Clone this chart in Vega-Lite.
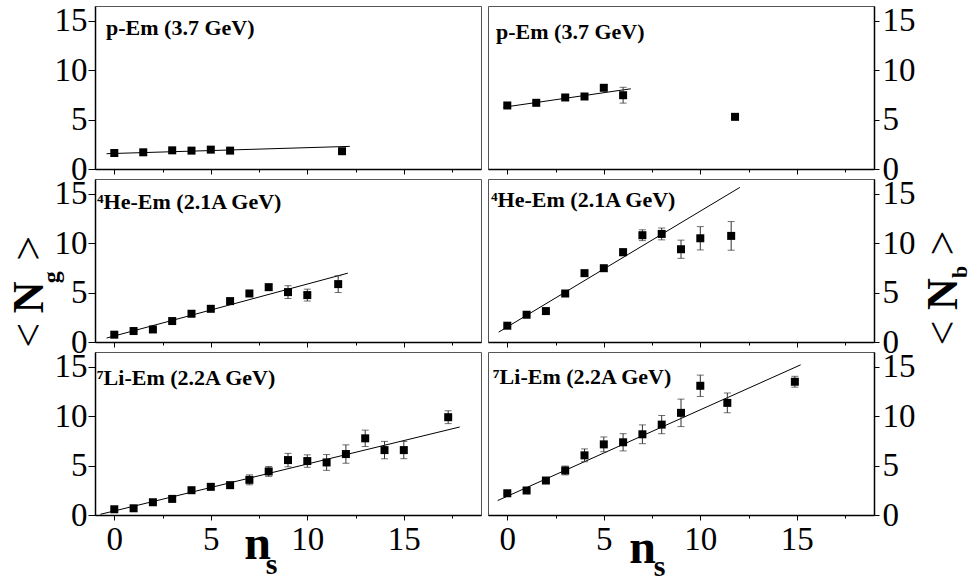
{
"$schema":"https://vega.github.io/schema/vega-lite/v6.json",
"background":"white",
"padding":{"left":7,"top":4,"right":0,"bottom":0},
"config":{
 "font":"Liberation Serif",
 "view":{"stroke":"#555","strokeWidth":1},
 "axis":{"grid":false,"domainColor":"black","domainWidth":1.5,"tickColor":"black","tickWidth":1,"labelColor":"black","labelFont":"Liberation Serif","labelFontSize":33}
},
"datasets":{
 "pts":[
  {"p":"TL","ns":0,"v":1.62,"e":0.1},{"p":"TL","ns":1.5,"v":1.69,"e":0.1},{"p":"TL","ns":3,"v":1.89,"e":0.1},{"p":"TL","ns":4,"v":1.86,"e":0.1},{"p":"TL","ns":5,"v":1.96,"e":0.1},{"p":"TL","ns":6,"v":1.86,"e":0.1},{"p":"TL","ns":11.8,"v":1.8,"e":0.15},
  {"p":"TR","ns":0,"v":6.43,"e":0.1},{"p":"TR","ns":1.5,"v":6.7,"e":0.1},{"p":"TR","ns":3,"v":7.24,"e":0.15},{"p":"TR","ns":4,"v":7.34,"e":0.15},{"p":"TR","ns":5,"v":8.22,"e":0.2},{"p":"TR","ns":6,"v":7.47,"e":0.8},{"p":"TR","ns":11.8,"v":5.28,"e":0.1},
  {"p":"ML","ns":0,"v":0.74,"e":0.1},{"p":"ML","ns":1,"v":1.11,"e":0.1},{"p":"ML","ns":2,"v":1.27,"e":0.1},{"p":"ML","ns":3,"v":2.12,"e":0.1},{"p":"ML","ns":4,"v":2.86,"e":0.15},{"p":"ML","ns":5,"v":3.36,"e":0.15},{"p":"ML","ns":6,"v":4.14,"e":0.2},{"p":"ML","ns":7,"v":4.91,"e":0.2},{"p":"ML","ns":8,"v":5.55,"e":0.3},{"p":"ML","ns":9,"v":5.05,"e":0.65},{"p":"ML","ns":10,"v":4.75,"e":0.6},{"p":"ML","ns":11.6,"v":5.86,"e":0.85},
  {"p":"MR","ns":0,"v":1.65,"e":0.1},{"p":"MR","ns":1,"v":2.76,"e":0.1},{"p":"MR","ns":2,"v":3.13,"e":0.15},{"p":"MR","ns":3,"v":4.91,"e":0.15},{"p":"MR","ns":4,"v":6.97,"e":0.2},{"p":"MR","ns":5,"v":7.47,"e":0.25},{"p":"MR","ns":6,"v":9.09,"e":0.35},{"p":"MR","ns":7,"v":10.81,"e":0.55},{"p":"MR","ns":8,"v":10.94,"e":0.6},{"p":"MR","ns":9,"v":9.39,"e":0.92},{"p":"MR","ns":10,"v":10.5,"e":1.18},{"p":"MR","ns":11.6,"v":10.74,"e":1.45},
  {"p":"BL","ns":0,"v":0.58,"e":0.1},{"p":"BL","ns":1,"v":0.68,"e":0.1},{"p":"BL","ns":2,"v":1.29,"e":0.1},{"p":"BL","ns":3,"v":1.63,"e":0.15},{"p":"BL","ns":4,"v":2.51,"e":0.15},{"p":"BL","ns":5,"v":2.85,"e":0.2},{"p":"BL","ns":6,"v":3.02,"e":0.3},{"p":"BL","ns":7,"v":3.56,"e":0.5},{"p":"BL","ns":8,"v":4.41,"e":0.5},{"p":"BL","ns":9,"v":5.56,"e":0.68},{"p":"BL","ns":10,"v":5.46,"e":0.63},{"p":"BL","ns":11,"v":5.32,"e":0.8},{"p":"BL","ns":12,"v":6.17,"e":0.93},{"p":"BL","ns":13,"v":7.76,"e":0.83},{"p":"BL","ns":14,"v":6.57,"e":0.88},{"p":"BL","ns":15,"v":6.57,"e":0.87},{"p":"BL","ns":17.3,"v":9.9,"e":0.65},
  {"p":"BR","ns":0,"v":2.2,"e":0.1},{"p":"BR","ns":1,"v":2.48,"e":0.15},{"p":"BR","ns":2,"v":3.49,"e":0.2},{"p":"BR","ns":3,"v":4.51,"e":0.45},{"p":"BR","ns":4,"v":6.04,"e":0.65},{"p":"BR","ns":5,"v":7.15,"e":0.75},{"p":"BR","ns":6,"v":7.36,"e":0.87},{"p":"BR","ns":7,"v":8.17,"e":0.95},{"p":"BR","ns":8,"v":9.15,"e":0.92},{"p":"BR","ns":9,"v":10.34,"e":1.39},{"p":"BR","ns":10,"v":13.08,"e":1.08},{"p":"BR","ns":11.4,"v":11.35,"e":1.0},{"p":"BR","ns":14.9,"v":13.49,"e":0.55}
 ],
 "fits":[
  {"p":"TL","ns":-0.4,"v":1.55},{"p":"TL","ns":12.2,"v":2.29},
  {"p":"TR","ns":-0.2,"v":6.25},{"p":"TR","ns":6.4,"v":8.12},
  {"p":"ML","ns":-0.4,"v":0.4},{"p":"ML","ns":12.1,"v":6.97},
  {"p":"MR","ns":-0.45,"v":1.0},{"p":"MR","ns":12.05,"v":15.65},
  {"p":"BL","ns":-0.72,"v":0.07},{"p":"BL","ns":17.9,"v":8.91},
  {"p":"BR","ns":-0.5,"v":1.46},{"p":"BR","ns":15.2,"v":15.2}
 ]
},
"columns":2,
"spacing":{"row":10,"column":7},
"bounds":"flush",
"concat":[
 {
  "width":386,"height":163,
  "layer":[
   {"data":{"name":"fits"},"transform":[{"filter":"datum.p === 'TL'"}],"mark":{"type":"line","color":"black","strokeWidth":1},"encoding":{"x":{"field":"ns","type":"quantitative"},"y":{"field":"v","type":"quantitative"}}},
   {"data":{"name":"pts"},"transform":[{"filter":"datum.p === 'TL'"}],"mark":{"type":"errorbar","ticks":true,"size":7,"thickness":1,"color":"#333"},"encoding":{"x":{"field":"ns","type":"quantitative"},"y":{"field":"v","type":"quantitative"},"yError":{"field":"e"}}},
   {"data":{"name":"pts"},"transform":[{"filter":"datum.p === 'TL'"}],"mark":{"type":"square","size":64,"color":"black","opacity":1},"encoding":{
     "x":{"field":"ns","type":"quantitative","scale":{"domain":[-1,19],"nice":false,"zero":false},"axis":{"title":null,"values":[0,2.5,5,7.5,10,12.5,15,17.5],"labels":false,"tickSize":{"condition":{"test":"datum.value % 5 === 0","value":5},"value":3}}},
     "y":{"field":"v","type":"quantitative","scale":{"domain":[0,16.5],"nice":false,"zero":false},"axis":{"title":null,"orient":"left","values":[0,2.5,5,7.5,10,12.5,15],"labelExpr":"datum.value % 5 === 0 ? '' + datum.value : ''","tickSize":{"condition":{"test":"datum.value % 5 === 0","value":7},"value":4},"labelPadding":1}}}},
   {"data":{"values":[{"t":"p-Em (3.7 GeV)"}]},"mark":{"type":"text","align":"left","baseline":"alphabetic","fontSize":22,"fontWeight":"bold","color":"black","dx":11,"dy":29},"encoding":{"x":{"datum":-1},"y":{"datum":16.5},"text":{"field":"t"}}}
  ]
 },
 {
  "width":386,"height":163,
  "layer":[
   {"data":{"name":"fits"},"transform":[{"filter":"datum.p === 'TR'"}],"mark":{"type":"line","color":"black","strokeWidth":1},"encoding":{"x":{"field":"ns","type":"quantitative"},"y":{"field":"v","type":"quantitative"}}},
   {"data":{"name":"pts"},"transform":[{"filter":"datum.p === 'TR'"}],"mark":{"type":"errorbar","ticks":true,"size":7,"thickness":1,"color":"#333"},"encoding":{"x":{"field":"ns","type":"quantitative"},"y":{"field":"v","type":"quantitative"},"yError":{"field":"e"}}},
   {"data":{"name":"pts"},"transform":[{"filter":"datum.p === 'TR'"}],"mark":{"type":"square","size":64,"color":"black","opacity":1},"encoding":{
     "x":{"field":"ns","type":"quantitative","scale":{"domain":[-1,19],"nice":false,"zero":false},"axis":{"title":null,"values":[0,2.5,5,7.5,10,12.5,15,17.5],"labels":false,"tickSize":{"condition":{"test":"datum.value % 5 === 0","value":5},"value":3}}},
     "y":{"field":"v","type":"quantitative","scale":{"domain":[0,16.5],"nice":false,"zero":false},"axis":{"title":null,"orient":"right","values":[0,2.5,5,7.5,10,12.5,15],"labelExpr":"datum.value % 5 === 0 ? '' + datum.value : ''","tickSize":{"condition":{"test":"datum.value % 5 === 0","value":5},"value":3},"labelPadding":3}}}},
   {"data":{"values":[{"t":"p-Em (3.7 GeV)"}]},"mark":{"type":"text","align":"left","baseline":"alphabetic","fontSize":22,"fontWeight":"bold","color":"black","dx":8,"dy":33},"encoding":{"x":{"datum":-1},"y":{"datum":16.5},"text":{"field":"t"}}}
  ]
 },
 {
  "width":386,"height":163,
  "layer":[
   {"data":{"name":"fits"},"transform":[{"filter":"datum.p === 'ML'"}],"mark":{"type":"line","color":"black","strokeWidth":1},"encoding":{"x":{"field":"ns","type":"quantitative"},"y":{"field":"v","type":"quantitative"}}},
   {"data":{"name":"pts"},"transform":[{"filter":"datum.p === 'ML'"}],"mark":{"type":"errorbar","ticks":true,"size":7,"thickness":1,"color":"#333"},"encoding":{"x":{"field":"ns","type":"quantitative"},"y":{"field":"v","type":"quantitative"},"yError":{"field":"e"}}},
   {"data":{"name":"pts"},"transform":[{"filter":"datum.p === 'ML'"}],"mark":{"type":"square","size":64,"color":"black","opacity":1},"encoding":{
     "x":{"field":"ns","type":"quantitative","scale":{"domain":[-1,19],"nice":false,"zero":false},"axis":{"title":null,"values":[0,2.5,5,7.5,10,12.5,15,17.5],"labels":false,"tickSize":{"condition":{"test":"datum.value % 5 === 0","value":5},"value":3}}},
     "y":{"field":"v","type":"quantitative","scale":{"domain":[0,16.5],"nice":false,"zero":false},"axis":{"title":null,"orient":"left","values":[0,2.5,5,7.5,10,12.5,15],"labelExpr":"datum.value % 5 === 0 ? '' + datum.value : ''","tickSize":{"condition":{"test":"datum.value % 5 === 0","value":7},"value":4},"labelPadding":1}}}},
   {"data":{"values":[{"t":"⁴He-Em (2.1A GeV)"}]},"mark":{"type":"text","align":"left","baseline":"alphabetic","fontSize":22,"fontWeight":"bold","color":"black","dx":2,"dy":30},"encoding":{"x":{"datum":-1},"y":{"datum":16.5},"text":{"field":"t"}}},
   {"data":{"values":[{"t":"<"}]},"mark":{"type":"text","angle":270,"align":"center","baseline":"alphabetic","fontSize":44,"color":"black","dx":-38},"encoding":{"x":{"datum":-3.68},"y":{"datum":4.52},"text":{"field":"t"}}},
   {"data":{"values":[{"t":"N"}]},"mark":{"type":"text","angle":270,"align":"center","baseline":"alphabetic","fontSize":44,"fontWeight":"bold","color":"black"},"encoding":{"x":{"datum":-3.68},"y":{"datum":4.52},"text":{"field":"t"}}},
   {"data":{"values":[{"t":"g"}]},"mark":{"type":"text","angle":270,"align":"center","baseline":"alphabetic","fontSize":24,"fontWeight":"bold","color":"black","dx":20,"dy":16},"encoding":{"x":{"datum":-3.68},"y":{"datum":4.52},"text":{"field":"t"}}},
   {"data":{"values":[{"t":">"}]},"mark":{"type":"text","angle":270,"align":"center","baseline":"alphabetic","fontSize":44,"color":"black","dx":49},"encoding":{"x":{"datum":-3.68},"y":{"datum":4.52},"text":{"field":"t"}}}
  ]
 },
 {
  "width":386,"height":163,
  "layer":[
   {"data":{"name":"fits"},"transform":[{"filter":"datum.p === 'MR'"}],"mark":{"type":"line","color":"black","strokeWidth":1},"encoding":{"x":{"field":"ns","type":"quantitative"},"y":{"field":"v","type":"quantitative"}}},
   {"data":{"name":"pts"},"transform":[{"filter":"datum.p === 'MR'"}],"mark":{"type":"errorbar","ticks":true,"size":7,"thickness":1,"color":"#333"},"encoding":{"x":{"field":"ns","type":"quantitative"},"y":{"field":"v","type":"quantitative"},"yError":{"field":"e"}}},
   {"data":{"name":"pts"},"transform":[{"filter":"datum.p === 'MR'"}],"mark":{"type":"square","size":64,"color":"black","opacity":1},"encoding":{
     "x":{"field":"ns","type":"quantitative","scale":{"domain":[-1,19],"nice":false,"zero":false},"axis":{"title":null,"values":[0,2.5,5,7.5,10,12.5,15,17.5],"labels":false,"tickSize":{"condition":{"test":"datum.value % 5 === 0","value":5},"value":3}}},
     "y":{"field":"v","type":"quantitative","scale":{"domain":[0,16.5],"nice":false,"zero":false},"axis":{"title":null,"orient":"right","values":[0,2.5,5,7.5,10,12.5,15],"labelExpr":"datum.value % 5 === 0 ? '' + datum.value : ''","tickSize":{"condition":{"test":"datum.value % 5 === 0","value":5},"value":3},"labelPadding":3}}}},
   {"data":{"values":[{"t":"⁴He-Em (2.1A GeV)"}]},"mark":{"type":"text","align":"left","baseline":"alphabetic","fontSize":22,"fontWeight":"bold","color":"black","dx":3,"dy":28},"encoding":{"x":{"datum":-1},"y":{"datum":16.5},"text":{"field":"t"}}},
   {"data":{"values":[{"t":"<"}]},"mark":{"type":"text","angle":270,"align":"center","baseline":"alphabetic","fontSize":44,"color":"black","dx":-39},"encoding":{"x":{"datum":23.28},"y":{"datum":4.86},"text":{"field":"t"}}},
   {"data":{"values":[{"t":"N"}]},"mark":{"type":"text","angle":270,"align":"center","baseline":"alphabetic","fontSize":44,"fontWeight":"bold","color":"black"},"encoding":{"x":{"datum":23.28},"y":{"datum":4.86},"text":{"field":"t"}}},
   {"data":{"values":[{"t":"b"}]},"mark":{"type":"text","angle":270,"align":"center","baseline":"alphabetic","fontSize":22,"fontWeight":"bold","color":"black","dx":22,"dy":10},"encoding":{"x":{"datum":23.28},"y":{"datum":4.86},"text":{"field":"t"}}},
   {"data":{"values":[{"t":">"}]},"mark":{"type":"text","angle":270,"align":"center","baseline":"alphabetic","fontSize":44,"color":"black","dx":51},"encoding":{"x":{"datum":23.28},"y":{"datum":4.86},"text":{"field":"t"}}}
  ]
 },
 {
  "width":386,"height":163,
  "layer":[
   {"data":{"name":"fits"},"transform":[{"filter":"datum.p === 'BL'"}],"mark":{"type":"line","color":"black","strokeWidth":1},"encoding":{"x":{"field":"ns","type":"quantitative"},"y":{"field":"v","type":"quantitative"}}},
   {"data":{"name":"pts"},"transform":[{"filter":"datum.p === 'BL'"}],"mark":{"type":"errorbar","ticks":true,"size":7,"thickness":1,"color":"#333"},"encoding":{"x":{"field":"ns","type":"quantitative"},"y":{"field":"v","type":"quantitative"},"yError":{"field":"e"}}},
   {"data":{"name":"pts"},"transform":[{"filter":"datum.p === 'BL'"}],"mark":{"type":"square","size":64,"color":"black","opacity":1},"encoding":{
     "x":{"field":"ns","type":"quantitative","scale":{"domain":[-1,19],"nice":false,"zero":false},"axis":{"title":null,"values":[0,2.5,5,7.5,10,12.5,15,17.5],"labelExpr":"datum.value % 5 === 0 ? '' + datum.value : ''","tickSize":{"condition":{"test":"datum.value % 5 === 0","value":5},"value":3},"labelPadding":3}},
     "y":{"field":"v","type":"quantitative","scale":{"domain":[0,16.5],"nice":false,"zero":false},"axis":{"title":null,"orient":"left","values":[0,2.5,5,7.5,10,12.5,15],"labelExpr":"datum.value % 5 === 0 ? '' + datum.value : ''","tickSize":{"condition":{"test":"datum.value % 5 === 0","value":7},"value":4},"labelPadding":1}}}},
   {"data":{"values":[{"t":"⁷Li-Em (2.2A GeV)"}]},"mark":{"type":"text","align":"left","baseline":"alphabetic","fontSize":22,"fontWeight":"bold","color":"black","dx":2,"dy":33},"encoding":{"x":{"datum":-1},"y":{"datum":16.5},"text":{"field":"t"}}},
   {"data":{"values":[{"t":"n"}]},"mark":{"type":"text","align":"center","baseline":"alphabetic","fontSize":48,"fontWeight":"bold","color":"black"},"encoding":{"x":{"datum":7.42},"y":{"datum":-4.5},"text":{"field":"t"}}},
   {"data":{"values":[{"t":"s"}]},"mark":{"type":"text","align":"center","baseline":"alphabetic","fontSize":30,"fontWeight":"bold","color":"black","dx":14,"dy":15},"encoding":{"x":{"datum":7.42},"y":{"datum":-4.5},"text":{"field":"t"}}}
  ]
 },
 {
  "width":386,"height":163,
  "layer":[
   {"data":{"name":"fits"},"transform":[{"filter":"datum.p === 'BR'"}],"mark":{"type":"line","color":"black","strokeWidth":1},"encoding":{"x":{"field":"ns","type":"quantitative"},"y":{"field":"v","type":"quantitative"}}},
   {"data":{"name":"pts"},"transform":[{"filter":"datum.p === 'BR'"}],"mark":{"type":"errorbar","ticks":true,"size":7,"thickness":1,"color":"#333"},"encoding":{"x":{"field":"ns","type":"quantitative"},"y":{"field":"v","type":"quantitative"},"yError":{"field":"e"}}},
   {"data":{"name":"pts"},"transform":[{"filter":"datum.p === 'BR'"}],"mark":{"type":"square","size":64,"color":"black","opacity":1},"encoding":{
     "x":{"field":"ns","type":"quantitative","scale":{"domain":[-1,19],"nice":false,"zero":false},"axis":{"title":null,"values":[0,2.5,5,7.5,10,12.5,15,17.5],"labelExpr":"datum.value % 5 === 0 ? '' + datum.value : ''","tickSize":{"condition":{"test":"datum.value % 5 === 0","value":5},"value":3},"labelPadding":3}},
     "y":{"field":"v","type":"quantitative","scale":{"domain":[0,16.5],"nice":false,"zero":false},"axis":{"title":null,"orient":"right","values":[0,2.5,5,7.5,10,12.5,15],"labelExpr":"datum.value % 5 === 0 ? '' + datum.value : ''","tickSize":{"condition":{"test":"datum.value % 5 === 0","value":5},"value":3},"labelPadding":3}}}},
   {"data":{"values":[{"t":"⁷Li-Em (2.2A GeV)"}]},"mark":{"type":"text","align":"left","baseline":"alphabetic","fontSize":22,"fontWeight":"bold","color":"black","dx":5,"dy":32},"encoding":{"x":{"datum":-1},"y":{"datum":16.5},"text":{"field":"t"}}},
   {"data":{"values":[{"t":"n"}]},"mark":{"type":"text","align":"center","baseline":"alphabetic","fontSize":48,"fontWeight":"bold","color":"black"},"encoding":{"x":{"datum":7.01},"y":{"datum":-4.86},"text":{"field":"t"}}},
   {"data":{"values":[{"t":"s"}]},"mark":{"type":"text","align":"center","baseline":"alphabetic","fontSize":30,"fontWeight":"bold","color":"black","dx":17,"dy":13},"encoding":{"x":{"datum":7.01},"y":{"datum":-4.86},"text":{"field":"t"}}}
  ]
 }
]
}
